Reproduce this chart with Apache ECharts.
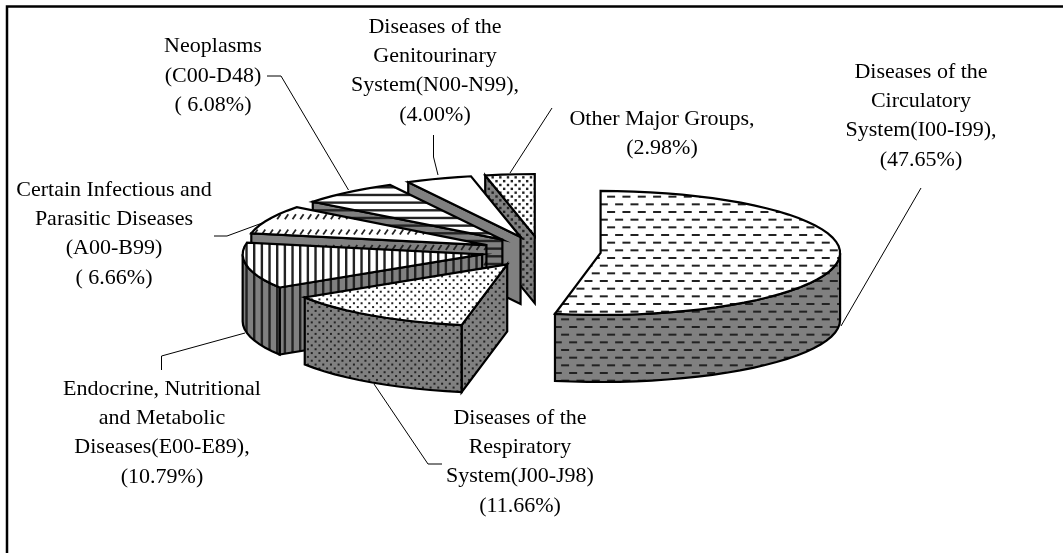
<!DOCTYPE html>
<html>
<head>
<meta charset="utf-8">
<style>
html, body { margin: 0; padding: 0; background: #fff; }
#chart { width: 1063px; height: 553px; }
</style>
<script src="https://cdn.jsdelivr.net/npm/echarts@6/dist/echarts.min.js"></script>
</head>
<body>
<div id="chart"></div>
<script>
// chart data, clockwise from 12 o'clock
const categories = [
    "Circulatory", "Respiratory", "Endocrine", "Infectious",
    "Neoplasms", "Genitourinary", "Other"
];
const shares = [47.65, 11.66, 10.79, 6.66, 6.08, 4.00, 2.98];
const labelTexts = [
    "Diseases of the\nCirculatory\nSystem(I00-I99),\n(47.65%)",
    "Diseases of the\nRespiratory\nSystem(J00-J98)\n(11.66%)",
    "Endocrine, Nutritional\nand Metabolic\nDiseases(E00-E89),\n(10.79%)",
    "Certain Infectious and\nParasitic Diseases\n(A00-B99)\n( 6.66%)",
    "Neoplasms\n(C00-D48)\n( 6.08%)",
    "Diseases of the\nGenitourinary\nSystem(N00-N99),\n(4.00%)",
    "Other Major Groups,\n(2.98%)"
];

// 3d look of the pie
const pie = { cx: 541, cy: 251.5, rx: 239.5, ry: 62, depth: 67, explode: 0.25 };
const GREY = "#808080";
const TILE = 46;        // 3 periods of the 15.33px hatch cell

function makeTile(bg, paint) {
    const c = document.createElement("canvas");
    c.width = TILE;
    c.height = TILE;
    const ctx = c.getContext("2d");
    ctx.fillStyle = bg;
    ctx.fillRect(0, 0, TILE, TILE);
    ctx.fillStyle = "#222";
    ctx.strokeStyle = "#222";
    paint(ctx);
    return { image: c, repeat: "repeat" };
}
const cell = TILE / 6;  // 7.67px
function paintDashes(ctx) {
    for (let k = -1; k < 7; k++) {
        const x0 = k % 2 === 0 ? 1.8 : 9.1;
        for (let i = -1; i < 4; i++) {
            ctx.fillRect(x0 + i * 2 * cell, 4 + k * cell, 8, 2);
        }
    }
}
function paintDots(ctx) {
    for (let k = -1; k < 13; k++) {
        const x0 = k % 2 === 0 ? 5.1 : 5.1 + cell / 2;
        for (let i = -1; i < 7; i++) {
            ctx.fillRect(x0 + i * cell - 1, 0.4 + k * cell / 2 - 1, 2, 2);
        }
    }
}
function paintSparseDots(ctx) {
    for (let k = -1; k < 13; k++) {
        const x0 = k % 2 === 0 ? 2 : 2 + cell / 2;
        for (let i = -1; i < 7; i++) {
            ctx.fillRect(x0 + i * cell - 1.2, 1 + k * cell / 2 - 1.2, 2.4, 2.4);
        }
    }
}
function paintVertical(ctx) {
    for (let i = -1; i < 7; i++) {
        ctx.fillRect(1.2 + i * cell - 1.2, 0, 2.4, TILE);
    }
}
function paintHorizontal(ctx) {
    for (let k = -1; k < 7; k++) {
        ctx.fillRect(0, 3.3 + k * cell - 1.2, TILE, 2.4);
    }
}
function paintSlant(ctx) {
    ctx.lineWidth = 1.8;
    for (let k = -1; k < 4; k++) {
        for (let i = -1; i < 7; i++) {
            const x = 2.9 + i * cell, y = 2.1 + k * 2 * cell;
            ctx.beginPath();
            ctx.moveTo(x - 1.7, y + 2.5);
            ctx.lineTo(x + 1.7, y - 2.5);
            ctx.stroke();
        }
    }
}
const painters = [paintDashes, paintDots, paintVertical, paintSlant, paintHorizontal, null, paintSparseDots];
const topFills = painters.map((p) => (p ? makeTile("#fff", p) : "#fff"));
const sideFills = painters.map((p) => (p ? makeTile(GREY, p) : GREY));

const total = shares.reduce((a, b) => a + b, 0);
const RAD = Math.PI / 180;

// degrees clockwise from 12 o'clock -> point on the ellipse around (ox, oy)
function onEllipse(ox, oy, deg, r) {
    return [ox + r * pie.rx * Math.sin(deg * RAD), oy - r * pie.ry * Math.cos(deg * RAD)];
}
function arcPoints(ox, oy, from, to) {
    const pts = [];
    const n = Math.max(2, Math.ceil((to - from) / 4));
    for (let i = 0; i <= n; i++) {
        pts.push(onEllipse(ox, oy, from + (to - from) * i / n, 1));
    }
    return pts;
}
function down(pts) {
    return pts.map((p) => [p[0], p[1] + pie.depth]);
}

function renderSlice(params, api) {
    const idx = params.dataIndex;
    const value = api.value(0);
    const before = shares.slice(0, idx).reduce((a, b) => a + b, 0);
    const a0 = before / total * 360;
    const a1 = a0 + value / total * 360;
    const mid = onEllipse(pie.cx, pie.cy, (a0 + a1) / 2, pie.explode);
    const ox = mid[0], oy = mid[1];
    const apex = [ox, oy];
    const base = { stroke: "#000", lineWidth: 2.2, lineJoin: "miter" };
    const children = [];
    const z2 = 10 * (categories.length - idx);

    function face(points, fill, z) {
        children.push({
            type: "polygon",
            z2: z2 + z,
            shape: { points: points },
            style: Object.assign({}, base, { fill: fill })
        });
    }
    // radial wall on the start edge
    if (Math.sin(a0 * RAD) < -0.001) {
        const p = onEllipse(ox, oy, a0, 1);
        face([p, apex].concat(down([apex, p])), sideFills[idx], 0);
    }
    // outer rim, only the front half of the ellipse shows
    const r0 = Math.max(a0, 90), r1 = Math.min(a1, 270);
    if (r1 > r0) {
        const arc = arcPoints(ox, oy, r0, r1);
        face(arc.concat(down(arc).reverse()), sideFills[idx], 1);
    }
    face([apex].concat(arcPoints(ox, oy, a0, a1)), topFills[idx], 2);
    return { type: "group", children: children };
}

// leader lines and text, page pixels
const labelSpots = [[921, 116], [520, 462], [162, 433], [114, 234], [213, 76], [435, 71], [662, 134]];
const leaders = [
    [[841, 326], [921, 188]],
    [[442, 464], [428, 464], [374, 384]],
    [[161.5, 370], [161.5, 356], [245, 333]],
    [[214, 236], [227, 236], [265, 222]],
    [[267, 76], [281, 76], [348.5, 190]],
    [[433.5, 135], [433.5, 157], [438, 175]],
    [[510, 173], [552, 108]]
];

const graphics = [
    {
        type: "polyline",
        silent: true,
        shape: { points: [[7, 553], [7, 6.5], [1063, 6.5]] },
        style: { stroke: "#000", lineWidth: 2.5, fill: null }
    }
];
leaders.forEach((pts) => {
    graphics.push({
        type: "polyline",
        silent: true,
        z: 5,
        shape: { points: pts },
        style: { stroke: "#000", lineWidth: 1, fill: null }
    });
});
labelTexts.forEach((text, i) => {
    graphics.push({
        type: "text",
        silent: true,
        x: labelSpots[i][0],
        y: labelSpots[i][1],
        style: {
            text: text,
            fill: "#000",
            font: '22px "Liberation Serif"',
            lineHeight: 29.3,
            align: "center",
            verticalAlign: "middle"
        }
    });
});

const chart = echarts.init(document.getElementById("chart"), null, { renderer: "canvas" });
chart.setOption({
    animation: false,
    backgroundColor: "#fff",
    graphic: graphics,
    series: [{
        type: "custom",
        coordinateSystem: "none",
        silent: true,
        renderItem: renderSlice,
        data: shares.map((v, i) => ({ name: categories[i], value: [v] }))
    }]
});
</script>
</body>
</html>
